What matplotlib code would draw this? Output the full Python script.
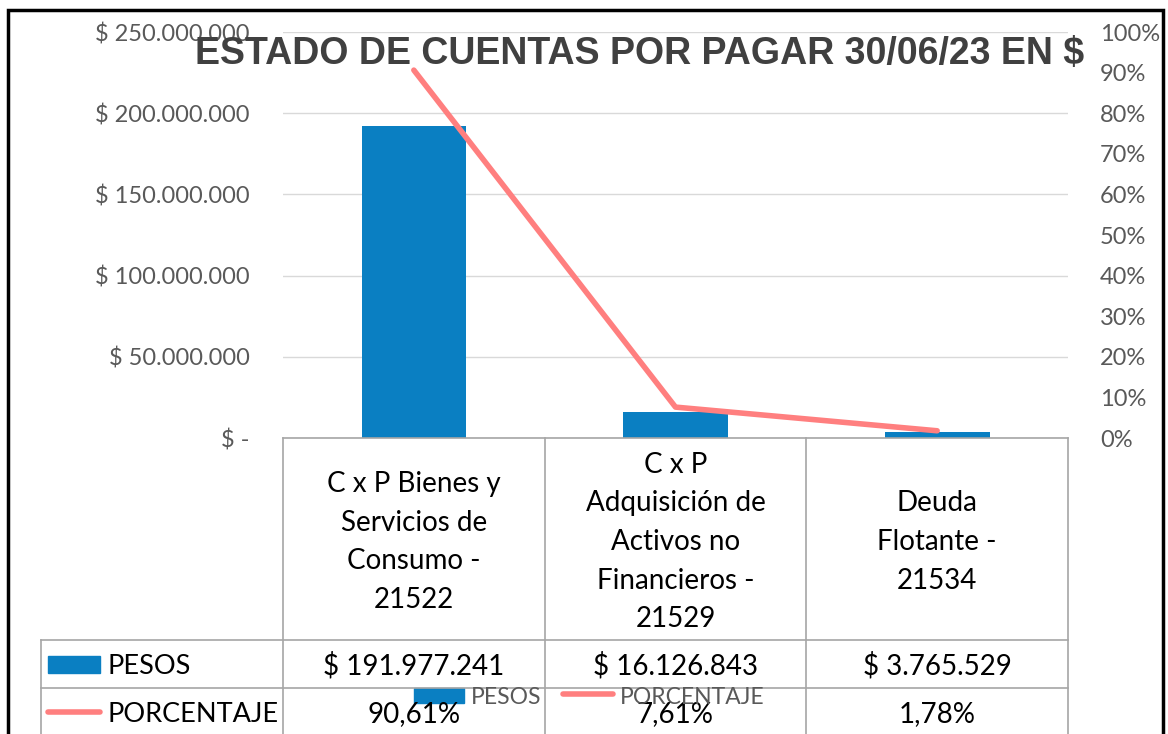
import numpy as np
import matplotlib
matplotlib.use('Agg')
import matplotlib.pyplot as plt
import matplotlib.transforms as mtransforms
from matplotlib.patches import Rectangle
from matplotlib.lines import Line2D
from matplotlib.ticker import FuncFormatter, MultipleLocator

plt.rcParams['font.family'] = ['Lato', 'DejaVu Sans']

# datos
categorias = ['C x P Bienes y\nServicios de\nConsumo -\n21522',
              'C x P\nAdquisición de\nActivos no\nFinancieros -\n21529',
              'Deuda\nFlotante -\n21534']
pesos = [191977241, 16126843, 3765529]
porcentaje = [90.61, 7.61, 1.78]
titulo = 'ESTADO DE CUENTAS POR PAGAR 30/06/23 EN $'

AZUL = '#0A7FC2'
ROSA = '#FF7F7F'
GRIS_TXT = '#595959'
GRIS_LIN = '#A6A6A6'

W, H = 1168, 734
fig = plt.figure(figsize=(W / 100, H / 100), dpi=100)

def fy(py):
    # pixel (desde arriba) -> fraccion de figura
    return 1 - py / H

x0, x1, y_top, y_cero = 283, 1068, 32, 438
ax = fig.add_axes([x0 / W, fy(y_cero), (x1 - x0) / W, (y_cero - y_top) / H])
ax2 = ax.twinx()

x = np.arange(len(categorias))
ax.bar(x, pesos, width=0.4, color=AZUL, zorder=2)
ax.set_xlim(-0.5, len(categorias) - 0.5)
ax.set_ylim(0, 250000000)
ax.yaxis.set_major_locator(MultipleLocator(50000000))

def fmt_pesos(v, pos):
    if v == 0:
        return '$ -'
    return '$ ' + f'{v:,.0f}'.replace(',', '.')

ax.yaxis.set_major_formatter(FuncFormatter(fmt_pesos))
ax.grid(axis='y', color='#D9D9D9', linewidth=1, zorder=0)
ax.set_axisbelow(True)
ax.set_xticks([])
ax.tick_params(axis='y', length=0, pad=24, labelsize=17, labelcolor=GRIS_TXT)
for s in ['top', 'right', 'left', 'bottom']:
    ax.spines[s].set_visible(False)

ax2.plot(x, porcentaje, color=ROSA, linewidth=4, solid_capstyle='round', zorder=3)
ax2.set_ylim(0, 100)
ax2.yaxis.set_major_locator(MultipleLocator(10))
ax2.yaxis.set_major_formatter(FuncFormatter(lambda v, p: f'{v:.0f}%'))
ax2.tick_params(axis='y', length=0, pad=23, labelsize=17, labelcolor=GRIS_TXT)
for s in ['top', 'right', 'left', 'bottom']:
    ax2.spines[s].set_visible(False)

fig.text(640 / W, fy(54), titulo, ha='center', va='center', fontsize=27,
         fontweight='bold', color='#404040', family='Liberation Sans')

# tabla de datos
tr = mtransforms.blended_transform_factory(ax.transData, fig.transFigure)
y_fila1, y_fila2 = 640, 688
lw_t = 1.2
bordes = np.arange(len(categorias) + 1) - 0.5
for b in bordes:
    fig.add_artist(Line2D([b, b], [fy(y_cero), 0], transform=tr, color=GRIS_LIN, lw=lw_t))
fig.add_artist(Line2D([bordes[0], bordes[-1]], [fy(y_cero), fy(y_cero)], transform=tr,
                      color=GRIS_LIN, lw=lw_t))
for yy in [y_fila1, y_fila2]:
    fig.add_artist(Line2D([41 / W, x1 / W], [fy(yy), fy(yy)], color=GRIS_LIN, lw=lw_t))
fig.add_artist(Line2D([41 / W, 41 / W], [fy(y_fila1), 0], color=GRIS_LIN, lw=lw_t))

for i, c in enumerate(categorias):
    fig.text(x[i], fy(542), c, transform=tr, ha='center', va='center', fontsize=20,
             linespacing=1.6, color='black')
    fig.text(x[i], fy(666), fmt_pesos(pesos[i], None), transform=tr, ha='center',
             va='center', fontsize=20, color='black')
    fig.text(x[i], fy(714), f'{porcentaje[i]:.2f}%'.replace('.', ','), transform=tr,
             ha='center', va='center', fontsize=20, color='black')

fig.add_artist(Rectangle((48 / W, fy(673)), 52 / W, 17 / H, transform=fig.transFigure,
                         color=AZUL))
fig.text(107 / W, fy(666), 'PESOS', ha='left', va='center', fontsize=19.5, color='black')
fig.add_artist(Line2D([48 / W, 100 / W], [fy(712), fy(712)], color=ROSA, lw=4,
                      solid_capstyle='round'))
fig.text(107 / W, fy(714), 'PORCENTAJE', ha='left', va='center', fontsize=19.5, color='black')

# leyenda
fig.add_artist(Rectangle((414 / W, fy(703)), 50 / W, 15 / H, transform=fig.transFigure,
                         color=AZUL))
fig.text(471 / W, fy(697), 'PESOS', ha='left', va='center', fontsize=16.5, color=GRIS_TXT)
fig.add_artist(Line2D([563 / W, 613 / W], [fy(694), fy(694)], color=ROSA, lw=4,
                      solid_capstyle='round'))
fig.text(620 / W, fy(697), 'PORCENTAJE', ha='left', va='center', fontsize=16.5, color=GRIS_TXT)

# marco
fig.add_artist(Rectangle((8 / W, -0.01), 1155 / W, fy(10) + 0.01, transform=fig.transFigure,
                         fill=False, edgecolor='black', lw=2.5))

fig.savefig('out.png', dpi=100)
